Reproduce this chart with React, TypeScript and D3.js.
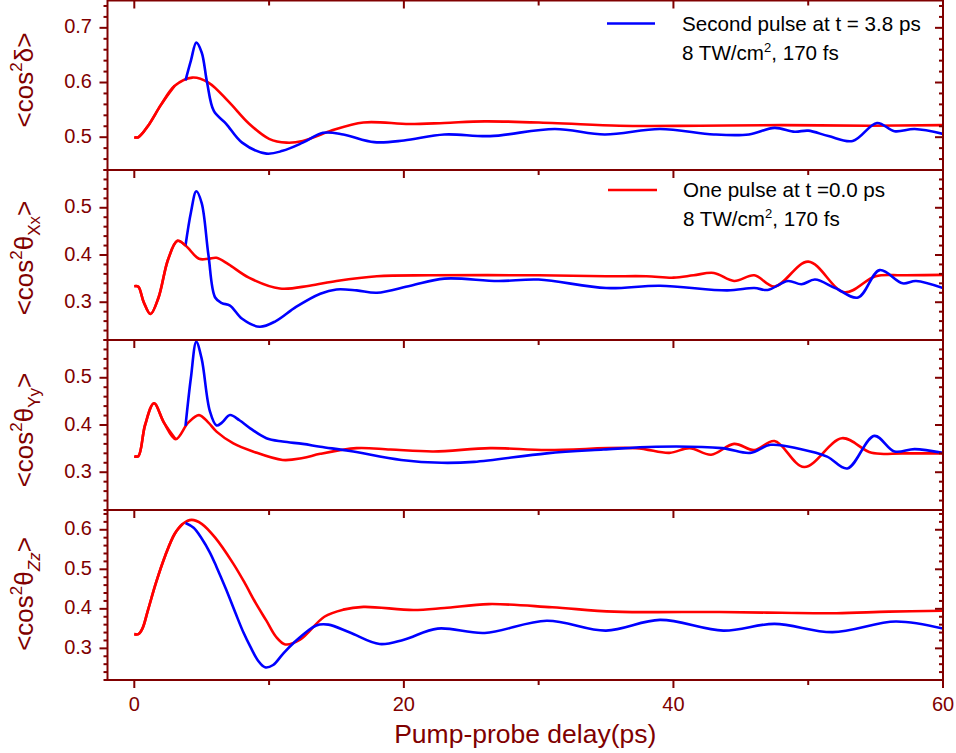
import React from "react";
import * as d3 from "d3";

type P = [number, number];

// ---- data (time in ps, value) ----
const redDelta: P[] = [[0,0.5],[0.3,0.5],[1,0.52],[2,0.56],[3,0.594],[4.3,0.609],[5.5,0.60],[7,0.565],[8.5,0.525],[10,0.497],[11.3,0.490],[12.5,0.493],[14.5,0.511],[17,0.527],[20.4,0.524],[23,0.526],[26,0.529],[31,0.526],[36,0.521],[42,0.521],[48,0.522],[54.5,0.521],[60,0.522]];
const blueDelta: P[] = [[3.8,0.604],[4.2,0.64],[4.6,0.673],[5.0,0.655],[5.4,0.6],[5.9,0.548],[6.8,0.525],[8,0.49],[9.8,0.47],[11,0.475],[12.5,0.49],[14,0.508],[15.5,0.505],[17.8,0.491],[20,0.494],[23,0.505],[26.4,0.502],[31.2,0.515],[34.9,0.505],[39,0.515],[43,0.505],[45.6,0.505],[47.5,0.517],[49,0.51],[50,0.512],[51.5,0.502],[53.3,0.493],[55.1,0.526],[56.4,0.511],[57.9,0.515],[60,0.506]];

const redXx: P[] = [[0,0.334],[0.3,0.333],[0.7,0.30],[1.2,0.275],[1.8,0.31],[2.5,0.39],[3.2,0.43],[3.8,0.42],[4.8,0.392],[5.5,0.392],[6.1,0.394],[7,0.38],[8.5,0.352],[10.8,0.329],[13,0.335],[15,0.345],[18,0.355],[22,0.357],[30,0.357],[35,0.355],[38,0.355],[40,0.352],[41.5,0.357],[43,0.362],[44.5,0.345],[46,0.357],[47.5,0.333],[50,0.386],[52.7,0.321],[55,0.355],[57,0.357],[60,0.358]];
const blueXx: P[] = [[3.8,0.42],[4.2,0.49],[4.6,0.535],[5.0,0.51],[5.5,0.40],[6.0,0.31],[6.5,0.298],[7.1,0.293],[8,0.265],[9.3,0.248],[10.5,0.26],[12,0.29],[13.8,0.318],[15,0.327],[16.5,0.325],[18,0.32],[20.5,0.335],[23,0.35],[27,0.345],[30,0.348],[35,0.33],[39,0.335],[44,0.325],[46,0.33],[47,0.326],[48.5,0.345],[49.5,0.338],[50.5,0.348],[52,0.33],[53.7,0.31],[55.3,0.368],[57,0.34],[58,0.345],[60,0.33]];

const redYy: P[] = [[0,0.334],[0.3,0.334],[0.8,0.4],[1.46,0.446],[2.2,0.405],[3.07,0.37],[4,0.405],[4.8,0.421],[5.5,0.405],[6.1,0.386],[7.35,0.361],[8.8,0.344],[11,0.326],[12.5,0.33],[13.8,0.339],[16.5,0.351],[19,0.348],[22.2,0.344],[26.4,0.351],[30.6,0.347],[37.2,0.351],[39.7,0.341],[41.2,0.351],[42.8,0.337],[44.5,0.36],[46,0.347],[47.5,0.366],[49.7,0.311],[52.5,0.372],[54.7,0.341],[57,0.34],[60,0.34]];
const blueYy: P[] = [[3.8,0.398],[4.2,0.5],[4.6,0.576],[5.0,0.54],[5.6,0.43],[6.1,0.399],[6.5,0.405],[7.1,0.421],[7.8,0.41],[8.6,0.393],[9.8,0.372],[11,0.365],[12.5,0.36],[13.8,0.354],[16,0.345],[19.8,0.326],[22.8,0.32],[25.2,0.322],[30.6,0.34],[34.8,0.348],[38.7,0.354],[43.6,0.351],[45.7,0.341],[47.2,0.358],[49.4,0.349],[51.4,0.333],[52.9,0.308],[54.9,0.377],[56.4,0.344],[57.9,0.349],[60,0.341]];

const redZz: P[] = [[0,0.336],[0.3,0.336],[0.6,0.35],[1.0,0.395],[1.6,0.465],[2.3,0.535],[3.0,0.59],[3.6,0.615],[4.25,0.625],[5,0.615],[6,0.58],[7.33,0.515],[8.2,0.465],[9,0.415],[9.8,0.37],[10.5,0.33],[11.2,0.31],[12.3,0.322],[14.1,0.38],[15.5,0.398],[17,0.405],[20.7,0.397],[23,0.402],[26.3,0.412],[31,0.404],[35.6,0.393],[43.4,0.392],[48,0.39],[52.1,0.389],[56,0.393],[60,0.395]];
const blueZz: P[] = [[3.8,0.617],[4.4,0.605],[5.0,0.578],[5.6,0.543],[6.1,0.506],[6.8,0.45],[7.5,0.39],[8.1,0.34],[8.6,0.305],[9.2,0.268],[9.7,0.252],[10.3,0.258],[11,0.285],[11.8,0.313],[13.5,0.358],[14.4,0.36],[16,0.34],[18.2,0.311],[20,0.322],[22.5,0.35],[26,0.339],[30.6,0.37],[35,0.345],[39,0.372],[43.7,0.345],[47.5,0.362],[51.8,0.341],[56.5,0.368],[60,0.35]];

const xTickLabels = [0, 20, 40, 60];
const xMinorTicks = [10, 30, 50];
const yDomains: [number, number][] = [[0.44, 0.75], [0.22, 0.58], [0.22, 0.58], [0.22, 0.65]];
const legendTexts = ["Second pulse at t = 3.8 ps", "One pulse at t =0.0 ps"];
const xTitle = "Pump-probe delay(ps)";

const AX = "#800000";
const BLUE = "#0000ff";
const RED = "#ff0000";
const FONT = "'Liberation Sans', Arial, sans-serif";

const left = 107.5, right = 943;
const panelTops = [0.5, 170, 340, 510];
const panelBots = [170, 340, 510, 680];

const x = d3.scaleLinear().domain([0, 60]).range([134.3, right]);

export default function App() {
  const series = [
    { red: redDelta, blue: blueDelta },
    { red: redXx, blue: blueXx },
    { red: redYy, blue: blueYy },
    { red: redZz, blue: blueZz },
  ];
  const labelCenters = [80, 258, 430, 594];
  const subs = ["", "Xx", "Yy", "Zz"];

  return (
    <svg width={956} height={753} style={{ position: "absolute", left: 0, top: 0, background: "#fff" }} fontFamily={FONT}>
      {series.map((s, i) => {
        const y = d3.scaleLinear().domain(yDomains[i]).range([panelBots[i], panelTops[i]]);
        const line = d3.line<P>().x(d => x(d[0])).y(d => y(d[1])).curve(d3.curveCatmullRom.alpha(0.5));
        const [lo, hi] = yDomains[i];
        const idx = d3.range(Math.ceil(lo / 0.02 - 1e-6), Math.floor(hi / 0.02 + 1e-6) + 1);
        const clipId = `clip${i}`;
        return (
          <g key={i}>
            <defs>
              <clipPath id={clipId}>
                <rect x={left} y={panelTops[i]} width={right - left} height={panelBots[i] - panelTops[i]} />
              </clipPath>
            </defs>
            <g clipPath={`url(#${clipId})`}>
              <path d={line(s.red) || ""} fill="none" stroke={RED} strokeWidth={2.6} strokeLinejoin="round" />
              <path d={line(s.blue) || ""} fill="none" stroke={BLUE} strokeWidth={2.6} strokeLinejoin="round" />
              <path d={line(s.red.filter(d => d[0] <= 3.9)) || ""} fill="none" stroke={RED} strokeWidth={2.6} />
            </g>
            {idx.map(k => {
              const v = k * 0.02;
              const major = k % 5 === 0;
              const yy = y(v);
              const len = major ? 8 : 4;
              return (
                <g key={k}>
                  <line x1={left - len} x2={left} y1={yy} y2={yy} stroke={AX} strokeWidth={2} />
                  <line x1={right - len} x2={right} y1={yy} y2={yy} stroke={AX} strokeWidth={2} />
                  {major && (
                    <text x={92} y={yy + 5.5} textAnchor="end" fontSize={20} fill={AX}>
                      {v.toFixed(1)}
                    </text>
                  )}
                </g>
              );
            })}
            {xTickLabels.map(t => (
              <line key={"M" + t} x1={x(t)} x2={x(t)} y1={panelTops[i]} y2={panelTops[i] + 8} stroke={AX} strokeWidth={2} />
            ))}
            {xMinorTicks.map(t => (
              <line key={"m" + t} x1={x(t)} x2={x(t)} y1={panelTops[i]} y2={panelTops[i] + 5} stroke={AX} strokeWidth={2} />
            ))}
            <rect x={left} y={panelTops[i]} width={right - left} height={panelBots[i] - panelTops[i]} fill="none" stroke={AX} strokeWidth={2} />
            <text transform={`translate(33,${labelCenters[i]}) rotate(-90)`} textAnchor="middle" fontSize={26} fill={AX}>
              {"<cos"}<tspan fontSize={17} dy={-11}>2</tspan>
              {i === 0 ? (
                <tspan dy={11}>{"δ>"}</tspan>
              ) : (
                <>
                  <tspan dy={11}>θ</tspan>
                  <tspan fontSize={17} dy={7} fontStyle={i === 3 ? "italic" : "normal"}>{subs[i]}</tspan>
                  <tspan dy={-7}>{">"}</tspan>
                </>
              )}
            </text>
          </g>
        );
      })}

      {xTickLabels.map(t => (
        <g key={"b" + t}>
          <line x1={x(t)} x2={x(t)} y1={680} y2={688} stroke={AX} strokeWidth={2} />
          <text x={x(t)} y={711} textAnchor="middle" fontSize={20} fill={AX}>{t}</text>
        </g>
      ))}
      {xMinorTicks.map(t => (
        <line key={"bm" + t} x1={x(t)} x2={x(t)} y1={680} y2={685} stroke={AX} strokeWidth={2} />
      ))}
      <text x={(left + right) / 2} y={743} textAnchor="middle" fontSize={26.5} fill={AX}>{xTitle}</text>

      <line x1={607} x2={655} y1={23.5} y2={23.5} stroke={BLUE} strokeWidth={2.6} />
      <text x={682} y={31} fontSize={20.6} fill="#000">{legendTexts[0]}</text>
      <text x={682} y={60} fontSize={20.6} fill="#000">
        8 TW/cm<tspan fontSize={13} dy={-8}>2</tspan><tspan dy={8}>, 170 fs</tspan>
      </text>
      <line x1={608} x2={657} y1={190} y2={190} stroke={RED} strokeWidth={2.6} />
      <text x={683} y={197} fontSize={20.6} fill="#000">{legendTexts[1]}</text>
      <text x={683} y={226} fontSize={20.6} fill="#000">
        8 TW/cm<tspan fontSize={13} dy={-8}>2</tspan><tspan dy={8}>, 170 fs</tspan>
      </text>
    </svg>
  );
}
